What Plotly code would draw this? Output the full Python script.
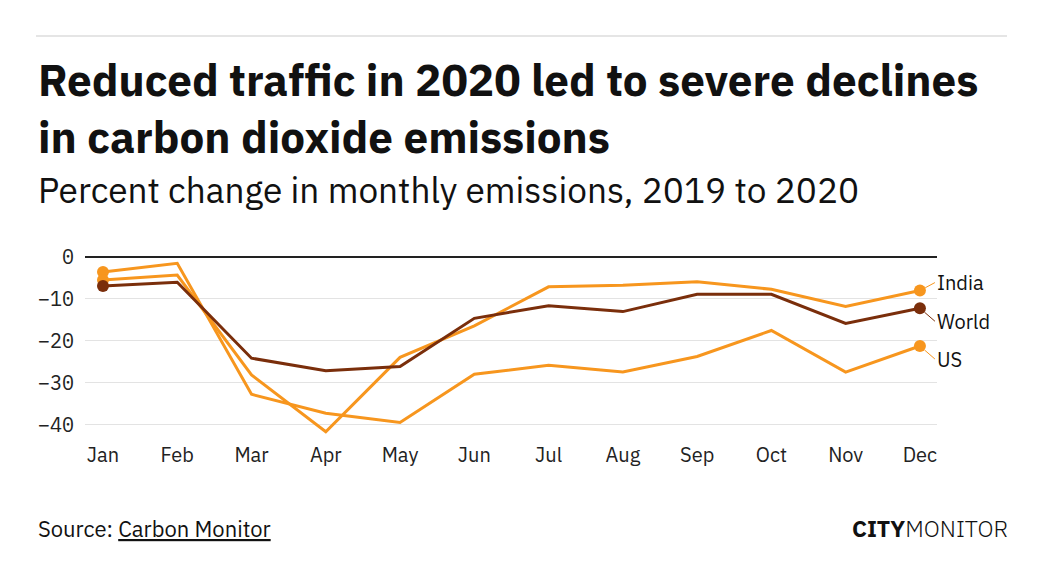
import plotly.graph_objects as go

months = ["Jan", "Feb", "Mar", "Apr", "May", "Jun", "Jul", "Aug", "Sep", "Oct", "Nov", "Dec"]
india = [-5.5, -4.3, -28.1, -41.6, -23.9, -16.4, -7.1, -6.7, -5.9, -7.7, -11.8, -8.0]
us = [-3.6, -1.5, -32.7, -37.2, -39.4, -27.9, -25.8, -27.4, -23.7, -17.5, -27.4, -21.2]
world = [-6.9, -6.0, -24.1, -27.1, -26.1, -14.6, -11.6, -13.0, -8.9, -8.9, -15.8, -12.2]
y_ticks = [0, -10, -20, -30, -40]

ORANGE = "#f7961e"
BROWN = "#7a2e0b"
SANS = "IBM Plex Sans, Noto Sans, sans-serif"
MONO = "IBM Plex Mono, DejaVu Sans Mono, monospace"

# plot area in pixels (page has an 8px body margin, so this is figure space)
L, R, T, B = 77, 114, 245, 156
W, H = 1043, 586
PW, PH = W - L - R, H - T - B


def px(x):
    return (x - L) / PW


def py(y):
    return (H - B - y) / PH


x = list(range(len(months)))
dots = [12] + [0] * (len(months) - 2) + [12]

fig = go.Figure()

# series: (name, values, colour, label offset in px)
series = [
    ("US", us, ORANGE, 13),
    ("India", india, ORANGE, -8),
    ("World", world, BROWN, 13),
]

for name, vals, col, off in series:
    fig.add_trace(go.Scatter(x=x, y=vals, mode="lines+markers", name=name,
                             line=dict(color=col, width=3),
                             marker=dict(size=dots, color=col, opacity=1,
                                         line=dict(width=0))))
    fig.add_annotation(x=x[-1], y=vals[-1], text=name, showarrow=True,
                       ax=15, ay=off, xanchor="left", yanchor="middle",
                       arrowhead=0, arrowwidth=1, arrowcolor=col, standoff=6,
                       font=dict(family=SANS, size=20, color="#111"))

fig.update_xaxes(range=[-0.242, 11.23], tickvals=x, ticktext=months,
                 showgrid=False, zeroline=False, showline=False, ticks="",
                 tickfont=dict(family=SANS, size=20, color="#222"),
                 ticklabelstandoff=3)
fig.update_yaxes(range=[-43.1, 0.95], tickvals=y_ticks,
                 showgrid=True, gridcolor="#e3e3e3", gridwidth=1,
                 zeroline=True, zerolinecolor="#222", zerolinewidth=1.5,
                 showline=False, ticks="",
                 tickfont=dict(family=MONO, size=20, color="#222"),
                 ticklabelstandoff=10)

# title block
fig.add_annotation(xref="paper", yref="paper", x=px(28), y=py(100),
                   text="<b>Reduced traffic in 2020 led to severe declines<br>"
                        "in carbon dioxide emissions</b>",
                   showarrow=False, xanchor="left", yanchor="middle", align="left",
                   font=dict(family=SANS, size=44, color="#111"))
fig.add_annotation(xref="paper", yref="paper", x=px(28), y=py(182),
                   text="Percent change in monthly emissions, 2019 to 2020",
                   showarrow=False, xanchor="left", yanchor="middle",
                   font=dict(family=SANS, size=35.2, color="#111"))

# footer
fig.add_annotation(xref="paper", yref="paper", x=px(28), y=py(520),
                   text="Source: <u>Carbon Monitor</u>",
                   showarrow=False, xanchor="left", yanchor="middle",
                   font=dict(family=SANS, size=22, color="#111"))
fig.add_annotation(xref="paper", yref="paper", x=px(1002), y=py(520),
                   text="<b>CITY</b><span style='font-weight:300'>MONITOR</span>",
                   showarrow=False, xanchor="right", yanchor="middle",
                   font=dict(family=SANS, size=23, color="#111"))

# thin rule at the top
fig.add_shape(type="line", xref="paper", yref="paper",
              x0=px(28), x1=px(999), y0=py(28), y1=py(28),
              line=dict(color="#dddddd", width=1.5))

fig.update_layout(width=W, height=H, showlegend=False,
                  margin=dict(l=L, r=R, t=T, b=B),
                  plot_bgcolor="white", paper_bgcolor="white",
                  hovermode=False)

fig.write_html("out.html")
